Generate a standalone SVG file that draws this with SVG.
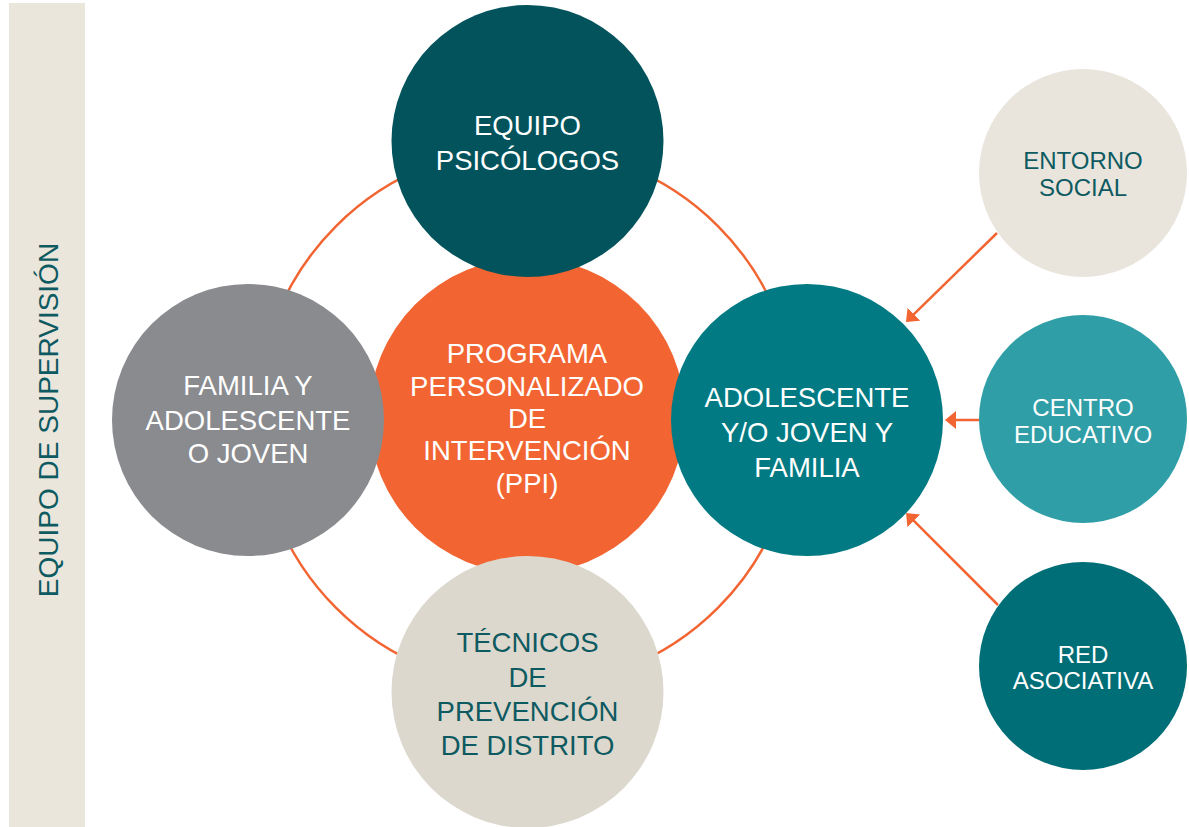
<svg xmlns="http://www.w3.org/2000/svg" width="1189" height="827" viewBox="0 0 1189 827">
  <style>
    text { font-family: "Liberation Sans", Arial, sans-serif; text-anchor: middle; }
    .big { font-size: 27.5px; }
    .small { font-size: 24px; }
    .w { fill: #FFFFFF; }
    .d { fill: #0E5A61; }
    .conn { stroke: #F26532; stroke-width: 2.5; fill: none; }
  </style>
  <defs>
    <marker id="arrow" markerUnits="userSpaceOnUse" markerWidth="12" markerHeight="18" refX="3" refY="9" orient="auto">
      <path d="M0,0 L11,9 L0,18 z" fill="#F26532"/>
    </marker>
  </defs>
  <rect width="1189" height="827" fill="#FFFFFF"/>

  <g id="supervision">
    <rect x="9" y="3" width="76" height="824" fill="#EAE6DC"/>
    <text class="d" font-size="28" transform="translate(58,420) rotate(-90)">EQUIPO DE SUPERVISIÓN</text>
  </g>

  <g id="ring">
    <circle cx="527" cy="417" r="270" fill="none" stroke="#F26532" stroke-width="2.5"/>
  </g>

  <g id="ppi">
    <circle cx="527" cy="416" r="158" fill="#F26532"/>
    <text class="big w" x="527" y="363">PROGRAMA</text>
    <text class="big w" x="527" y="396">PERSONALIZADO</text>
    <text class="big w" x="527" y="428">DE</text>
    <text class="big w" x="527" y="460">INTERVENCIÓN</text>
    <text class="big w" x="527" y="493">(PPI)</text>
  </g>

  <g id="psicologos">
    <circle cx="527.5" cy="141" r="136" fill="#02535C"/>
    <text class="big w" x="527.5" y="135">EQUIPO</text>
    <text class="big w" x="527.5" y="170">PSICÓLOGOS</text>
  </g>

  <g id="familia">
    <circle cx="248" cy="420" r="136" fill="#8A8B8F"/>
    <text class="big w" x="248" y="395">FAMILIA Y</text>
    <text class="big w" x="248" y="430">ADOLESCENTE</text>
    <text class="big w" x="248" y="463">O JOVEN</text>
  </g>

  <g id="adolescente">
    <circle cx="807" cy="420" r="136" fill="#017A83"/>
    <text class="big w" x="807" y="407">ADOLESCENTE</text>
    <text class="big w" x="807" y="442">Y/O JOVEN Y</text>
    <text class="big w" x="807" y="477">FAMILIA</text>
  </g>

  <g id="tecnicos">
    <circle cx="527.5" cy="692" r="136" fill="#DDD8CD"/>
    <text class="big d" x="527.5" y="652">TÉCNICOS</text>
    <text class="big d" x="527.5" y="687">DE</text>
    <text class="big d" x="527.5" y="721">PREVENCIÓN</text>
    <text class="big d" x="527.5" y="755">DE DISTRITO</text>
  </g>

  <g id="connectors">
    <line class="conn" x1="997" y1="233" x2="911.7" y2="316.4" marker-end="url(#arrow)"/>
    <line class="conn" x1="980" y1="420" x2="953" y2="420" marker-end="url(#arrow)"/>
    <line class="conn" x1="998" y1="605" x2="911.7" y2="518.7" marker-end="url(#arrow)"/>
  </g>

  <g id="entorno">
    <circle cx="1083" cy="173" r="104" fill="#E9E5DD"/>
    <text class="small d" x="1083" y="169">ENTORNO</text>
    <text class="small d" x="1083" y="196">SOCIAL</text>
  </g>

  <g id="centro">
    <circle cx="1083" cy="419" r="104" fill="#2F9EA7"/>
    <text class="small w" x="1083" y="416">CENTRO</text>
    <text class="small w" x="1083" y="443">EDUCATIVO</text>
  </g>

  <g id="red">
    <circle cx="1083" cy="666" r="104" fill="#006E77"/>
    <text class="small w" x="1083" y="663">RED</text>
    <text class="small w" x="1083" y="689">ASOCIATIVA</text>
  </g>
</svg>
